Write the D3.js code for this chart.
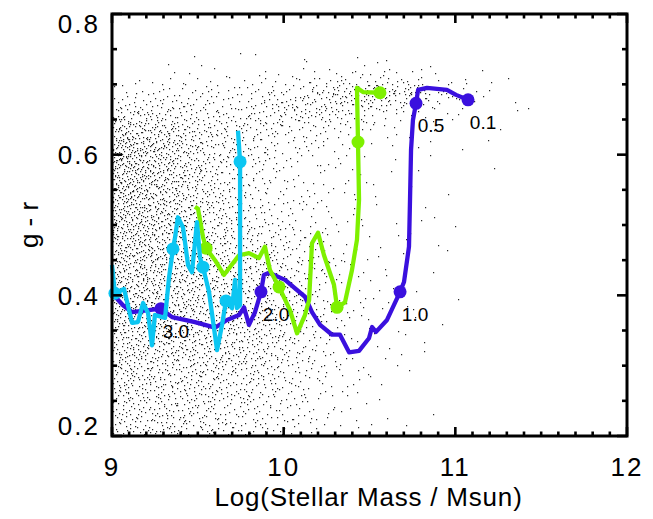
<!DOCTYPE html>
<html>
<head>
<meta charset="utf-8">
<script src="https://cdn.jsdelivr.net/npm/d3@7"></script>
<style>
  body { margin: 0; background: #fff; }
  svg { display: block; }
  text { font-family: "Liberation Sans", Arial, Helvetica, sans-serif; fill: #000; }
</style>
</head>
<body>
<svg id="chart" width="653" height="519"></svg>
<script>
// ---- axes ----
const xMajorTicks = [9, 10, 11, 12];
const yMajorTicks = [0.2, 0.4, 0.6, 0.8];
const xTitle = "Log(Stellar Mass / Msun)";
const yTitle = "g - r";

// ---- galaxy cloud: counts per cell (0.2 dex in mass x 0.025 mag in colour), rows listed top (0.775-0.800) to bottom (0.200-0.225)
const cloudMassEdges = [9.0, 9.2, 9.4, 9.6, 9.8, 10.0, 10.2, 10.4, 10.6, 10.8, 11.0, 11.2, 11.4, 11.6];
const cloudColourTop = 0.8;
const cloudColourStep = 0.025;
const cloudCounts = [
  [ 0,  0,  0,  0,  0,  0,  0,  0,  0,  0, 0, 0, 0],
  [ 0,  0,  0,  0,  0,  0,  0,  0,  0,  0, 0, 0, 0],
  [ 0,  0,  1,  1,  1,  1,  2,  1,  1,  0, 0, 0, 0],
  [ 2,  3,  4,  4,  5,  6,  8, 12, 10,  5, 2, 1, 0],
  [12, 12, 12, 14, 18, 24, 35, 50, 42, 18, 6, 2, 0],
  [30, 28, 22, 20, 26, 32, 30, 20, 10,  5, 3, 1, 0],
  [55, 45, 32, 24, 22, 16, 11,  6,  3,  2, 1, 1, 0],
  [70, 55, 36, 24, 16, 11,  7,  3,  2,  1, 1, 0, 0],
  [75, 55, 36, 22, 14,  9,  5,  3,  2,  1, 1, 0, 0],
  [72, 52, 35, 22, 14,  8,  5,  2,  1,  1, 0, 0, 0],
  [68, 52, 35, 24, 15,  9,  5,  2,  1,  1, 0, 0, 0],
  [65, 50, 36, 25, 16, 10,  5,  2,  1,  1, 0, 0, 0],
  [62, 50, 40, 30, 20, 13,  6,  3,  2,  1, 0, 0, 0],
  [60, 50, 40, 30, 22, 14,  6,  3,  1,  1, 0, 0, 0],
  [57, 50, 43, 35, 27, 18,  9,  4,  2,  1, 0, 0, 0],
  [55, 50, 43, 35, 27, 18,  9,  4,  2,  1, 0, 0, 0],
  [50, 46, 43, 38, 30, 20, 10,  4,  2,  1, 0, 0, 0],
  [47, 45, 42, 37, 30, 20, 10,  4,  2,  1, 0, 0, 0],
  [42, 41, 38, 35, 30, 19,  9,  3,  2,  1, 0, 0, 0],
  [40, 40, 37, 35, 30, 19,  9,  3,  2,  1, 0, 0, 0],
  [34, 33, 30, 28, 23, 15,  7,  3,  1,  0, 0, 0, 0],
  [32, 32, 30, 27, 22, 14,  6,  2,  1,  0, 0, 0, 0],
  [28, 28, 25, 23, 18, 11,  5,  2,  1,  0, 0, 0, 0],
  [27, 27, 25, 22, 17, 11,  5,  2,  1,  0, 0, 0, 0]
];

// ---- evolutionary tracks (high redshift -> low redshift) ----
const blueTrackMass = [9.000, 9.064, 9.117, 9.285, 9.350, 9.483, 9.600, 9.670, 9.740, 9.769, 9.798, 9.833, 9.868, 9.885, 9.915,
  10.008, 10.124, 10.165, 10.212, 10.282, 10.328, 10.381, 10.439, 10.497, 10.515, 10.538, 10.602, 10.678, 10.701, 10.730,
  10.736, 10.742, 10.753, 10.771, 10.783, 10.835, 10.951, 11.004, 11.074];
const blueTrackColour = [0.403, 0.386, 0.376, 0.381, 0.369, 0.362, 0.354, 0.365, 0.372, 0.383, 0.358, 0.376, 0.405, 0.429, 0.432,
  0.422, 0.398, 0.376, 0.358, 0.344, 0.344, 0.319, 0.321, 0.339, 0.355, 0.348, 0.365, 0.405, 0.419, 0.469,
  0.536, 0.607, 0.649, 0.673, 0.692, 0.695, 0.692, 0.685, 0.678];

const greenTrackMass = [9.483, 9.501, 9.530, 9.548, 9.600, 9.652, 9.740, 9.798, 9.856, 9.891, 9.920, 9.973, 10.037, 10.078, 10.124,
  10.148, 10.165, 10.200, 10.235, 10.293, 10.311, 10.357, 10.398, 10.427, 10.439, 10.433, 10.427, 10.462, 10.561];
const greenTrackColour = [0.526, 0.523, 0.483, 0.467, 0.450, 0.429, 0.457, 0.460, 0.453, 0.469, 0.436, 0.412, 0.379, 0.346, 0.372,
  0.393, 0.474, 0.489, 0.457, 0.415, 0.383, 0.390, 0.436, 0.479, 0.536, 0.618, 0.695, 0.689, 0.688];

const cyanTrackMass = [9.000, 9.017, 9.070, 9.117, 9.151, 9.181, 9.210, 9.233, 9.250, 9.309, 9.332, 9.355, 9.367, 9.384, 9.414,
  9.443, 9.466, 9.495, 9.513, 9.530, 9.565, 9.612, 9.641, 9.664, 9.699, 9.717, 9.728, 9.746, 9.746, 9.746, 9.734];
const cyanTrackColour = [0.443, 0.403, 0.409, 0.361, 0.362, 0.389, 0.375, 0.329, 0.372, 0.368, 0.425, 0.466, 0.482, 0.511, 0.496,
  0.443, 0.433, 0.504, 0.453, 0.440, 0.405, 0.322, 0.358, 0.392, 0.382, 0.422, 0.382, 0.386, 0.536, 0.590, 0.634];

// ---- track positions at z = 3.0, 2.0, 1.0, 0.5, 0.1 ----
const redshiftLabels = ["3.0", "2.0", "1.0", "0.5", "0.1"];
const blueMarkMass = [9.285, 9.868, 10.678, 10.771, 11.074];
const blueMarkColour = [0.381, 0.405, 0.405, 0.673, 0.678];
const greenMarkMass = [9.548, 9.973, 10.311, 10.433, 10.561];
const greenMarkColour = [0.467, 0.412, 0.383, 0.618, 0.688];
const cyanMarkMass = [9.017, 9.355, 9.530, 9.664, 9.746];
const cyanMarkColour = [0.403, 0.466, 0.440, 0.392, 0.590];

const trackColours = { blue: "#3a10de", green: "#7ef000", cyan: "#0cc6f2" };

(function () {
  // ---- layout ----
  const svg = d3.select("#chart");
  const pL = 112, pR = 627, pT = 14, pB = 436;
  const x = d3.scaleLinear().domain([9, 12]).range([pL, pR]);
  const y = d3.scaleLinear().domain([0.2, 0.8]).range([pB, pT]);

  // ---- galaxy cloud (low-discrepancy placement weighted by the cell counts) ----
  const nRows = cloudCounts.length, nCols = cloudMassEdges.length - 1;
  const cellW = 0.2;
  function countAt(m, c) {
    // bilinear between cell centres
    const fc = (m - cloudMassEdges[0]) / cellW - 0.5;
    const fr = (cloudColourTop - c) / cloudColourStep - 0.5;
    const c0 = Math.floor(fc), r0 = Math.floor(fr);
    const tc = fc - c0, tr = fr - r0;
    const get = (r, k) => {
      r = Math.max(0, Math.min(nRows - 1, r));
      if (k < 0) k = 0;
      if (k > nCols - 1) return 0;
      return cloudCounts[r][k];
    };
    return (get(r0, c0) * (1 - tc) + get(r0, c0 + 1) * tc) * (1 - tr) +
           (get(r0 + 1, c0) * (1 - tc) + get(r0 + 1, c0 + 1) * tc) * tr;
  }
  function halton(i, b) {
    let f = 1, r = 0;
    while (i > 0) { f /= b; r += f * (i % b); i = Math.floor(i / b); }
    return r;
  }
  const maxCount = d3.max(cloudCounts.flat());
  const cellsInFrame = (3 / cellW) * (0.6 / cloudColourStep);
  const candidates = Math.round(cellsInFrame * maxCount);
  let dotPath = "";
  for (let i = 1; i <= candidates; i++) {
    const m = 9 + 3 * halton(i, 2);
    const c = 0.2 + 0.6 * halton(i, 3);
    const u = halton(i, 5) * maxCount;
    if (u < countAt(m, c)) {
      const px = Math.round(x(m)), py = Math.round(y(c));
      dotPath += `M${px},${py}h1.2v1.2h-1.2z`;
    }
  }
  svg.append("path").attr("d", dotPath).attr("fill", "#111").attr("fill-opacity", 0.9);

  // ---- tracks ----
  const line = d3.line().x(d => x(d[0])).y(d => y(d[1]));
  function drawTrack(mass, colour, markMass, markColour, stroke) {
    const pts = mass.map((m, i) => [m, colour[i]]);
    svg.append("path").attr("d", line(pts)).attr("fill", "none")
      .attr("stroke", stroke).attr("stroke-width", 4.3)
      .attr("stroke-linejoin", "round").attr("stroke-linecap", "butt");
    svg.append("g").selectAll("circle").data(markMass).join("circle")
      .attr("cx", d => x(d)).attr("cy", (d, i) => y(markColour[i]))
      .attr("r", 6.5).attr("fill", stroke);
  }
  drawTrack(blueTrackMass, blueTrackColour, blueMarkMass, blueMarkColour, trackColours.blue);
  drawTrack(greenTrackMass, greenTrackColour, greenMarkMass, greenMarkColour, trackColours.green);
  drawTrack(cyanTrackMass, cyanTrackColour, cyanMarkMass, cyanMarkColour, trackColours.cyan);

  // redshift labels beside the blue track
  svg.append("g").selectAll("text").data(redshiftLabels).join("text")
    .attr("x", (d, i) => x(blueMarkMass[i]) + 15)
    .attr("y", (d, i) => y(blueMarkColour[i]) + 22)
    .attr("dy", "0.36em").attr("text-anchor", "middle")
    .attr("font-size", 19).text(d => d);

  // ---- frame and ticks ----
  const xMinor = d3.range(90, 121).map(v => v / 10);
  const yMinor = d3.range(4, 17).map(v => v / 20);
  const tickG = svg.append("g").attr("stroke", "#000").attr("stroke-width", 2.6);
  xMinor.forEach(v => {
    const len = xMajorTicks.some(t => Math.abs(t - v) < 1e-6) ? 9 : 4.5;
    tickG.append("line").attr("x1", x(v)).attr("x2", x(v)).attr("y1", pB).attr("y2", pB - len);
    tickG.append("line").attr("x1", x(v)).attr("x2", x(v)).attr("y1", pT).attr("y2", pT + len);
  });
  yMinor.forEach(v => {
    const len = yMajorTicks.some(t => Math.abs(t - v) < 1e-6) ? 10 : 5;
    tickG.append("line").attr("y1", y(v)).attr("y2", y(v)).attr("x1", pL).attr("x2", pL + len);
    tickG.append("line").attr("y1", y(v)).attr("y2", y(v)).attr("x1", pR).attr("x2", pR - len);
  });
  svg.append("rect").attr("x", pL).attr("y", pT).attr("width", pR - pL).attr("height", pB - pT)
    .attr("fill", "none").attr("stroke", "#000").attr("stroke-width", 3);

  // tick labels
  svg.append("g").selectAll("text").data(xMajorTicks).join("text")
    .attr("x", d => x(d)).attr("y", pB + 31).attr("dy", "0.36em")
    .attr("text-anchor", "middle").attr("font-size", 26).attr("letter-spacing", 2)
    .text(d => d);
  svg.append("g").selectAll("text").data(yMajorTicks).join("text")
    .attr("x", pL - 12)
    .attr("y", d => Math.max(pT + 10, Math.min(pB - 10, y(d))))
    .attr("dy", "0.36em").attr("text-anchor", "end")
    .attr("font-size", 26).attr("letter-spacing", 2)
    .text(d => d.toFixed(1));

  // axis titles
  svg.append("text").attr("x", (pL + pR) / 2 - 1).attr("y", 506)
    .attr("text-anchor", "middle").attr("font-size", 26).attr("letter-spacing", 0.8).text(xTitle);
  svg.append("text").attr("transform", `translate(38,${(pT + pB) / 2}) rotate(-90)`)
    .attr("text-anchor", "middle").attr("font-size", 26).text(yTitle);
})();
</script>
</body>
</html>
